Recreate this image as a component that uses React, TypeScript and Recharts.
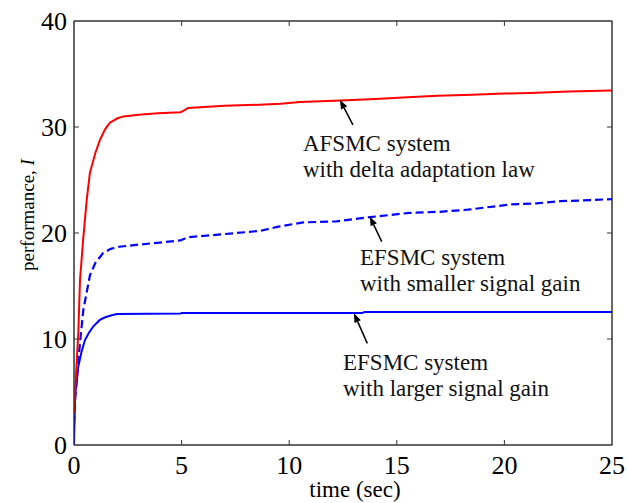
import {
  LineChart,
  Line,
  XAxis,
  YAxis,
  ReferenceLine,
  ReferenceDot,
  ReferenceArea,
} from "recharts";

// time (sec) / performance I
const tAfsmc = [0, 0.05, 0.2, 0.28, 0.43, 0.59, 0.74, 1.0, 1.21, 1.45, 1.67, 2.0, 2.3, 3.0, 3.9, 4.95, 5.1, 5.3, 7, 8.6, 9.6, 10.5, 12.4, 14, 15.5, 16.9, 18.5, 20, 21.2, 23, 25];
const iAfsmc = [3, 5, 10.6, 15.6, 19.5, 23.1, 25.7, 27.6, 28.8, 29.8, 30.4, 30.8, 31.0, 31.15, 31.3, 31.4, 31.55, 31.8, 32.0, 32.1, 32.2, 32.35, 32.5, 32.65, 32.8, 32.95, 33.05, 33.15, 33.2, 33.35, 33.45];

const tSmall = [0, 0.05, 0.2, 0.43, 0.74, 1.0, 1.35, 1.7, 2.1, 3, 4, 4.95, 5.3, 7, 8.65, 9.5, 10.65, 12.2, 13.0, 13.77, 15.6, 17, 18.3, 20.3, 21.5, 22.6, 24, 25];
const iSmall = [2, 4.2, 8.0, 12.7, 16.0, 17.2, 18.1, 18.5, 18.7, 18.9, 19.1, 19.3, 19.6, 19.9, 20.2, 20.6, 21.0, 21.1, 21.3, 21.5, 21.9, 22.0, 22.2, 22.7, 22.8, 23.0, 23.1, 23.2];

const tLarge = [0, 0.05, 0.2, 0.35, 0.51, 0.7, 0.9, 1.2, 1.45, 1.67, 2.0, 4.95, 5.0, 13.4, 13.5, 25];
const iLarge = [0, 4.6, 7.4, 8.8, 9.9, 10.6, 11.2, 11.8, 12.05, 12.2, 12.35, 12.4, 12.45, 12.45, 12.55, 12.55];

const xTicks = [0, 5, 10, 15, 20, 25];
const yTicks = [0, 10, 20, 30, 40];

// annotation: text anchor (t, I), arrow tail -> tip
const notes = [
  { lines: ["AFSMC system", "with delta adaptation law"], at: [10.64, 27.74], tail: [12.96, 30.2], tip: [12.36, 32.55] },
  { lines: ["EFSMC system", "with smaller signal gain"], at: [13.29, 16.98], tail: [14.3, 19.18], tip: [13.75, 21.54] },
  { lines: ["EFSMC system", "with larger signal gain"], at: [12.5, 7.12], tail: [13.63, 9.59], tip: [13.01, 12.42] },
];

const FONT = "Liberation Serif";
const AXIS = "#333";

function pairs(t: number[], v: number[]) {
  return t.map((x, i) => ({ t: x, v: v[i] }));
}

function Arrow(props: any) {
  const { x1, y1, x2, y2 } = props;
  const dx = x2 - x1;
  const dy = y2 - y1;
  const len = Math.sqrt(dx * dx + dy * dy) || 1;
  const ux = dx / len;
  const uy = dy / len;
  const hl = 9;
  const hw = 3.5;
  const bx = x2 - ux * hl;
  const by = y2 - uy * hl;
  return (
    <g>
      <line x1={x1} y1={y1} x2={bx} y2={by} stroke="#000" strokeWidth={1.5} />
      <polygon
        points={`${x2},${y2} ${bx - uy * hw},${by + ux * hw} ${bx + uy * hw},${by - ux * hw}`}
        fill="#000"
      />
    </g>
  );
}

// box round the plot, inward ticks on all four sides
function FrameBox(props: any) {
  const { x, y, width, height } = props;
  const nx = xTicks.length - 1;
  const ny = yTicks.length - 1;
  const marks = [];
  for (let k = 1; k < nx; k++) {
    const px = x + (width * k) / nx;
    marks.push(<line key={`t${k}`} x1={px} y1={y} x2={px} y2={y + 5} stroke={AXIS} />);
    marks.push(<line key={`b${k}`} x1={px} y1={y + height} x2={px} y2={y + height - 5} stroke={AXIS} />);
  }
  for (let k = 1; k < ny; k++) {
    const py = y + (height * k) / ny;
    marks.push(<line key={`r${k}`} x1={x + width} y1={py} x2={x + width - 5} y2={py} stroke={AXIS} />);
    marks.push(<line key={`l${k}`} x1={x} y1={py} x2={x + 5} y2={py} stroke={AXIS} />);
  }
  return (
    <g>
      <rect x={x} y={y} width={width} height={height} fill="none" stroke={AXIS} />
      {marks}
    </g>
  );
}

function noteText(lines: string[]) {
  return (props: any) => (
    <text x={props.cx} y={props.cy} fontFamily={FONT} fontSize={23} fill="#111">
      {lines.map((s, i) => (
        <tspan key={i} x={props.cx} dy={i === 0 ? 0 : 26} fontFamily={FONT}>
          {s}
        </tspan>
      ))}
    </text>
  );
}

export default function App() {
  return (
    <div style={{ position: "absolute", left: 0, top: 0 }}>
      <LineChart
        width={628}
        height={503}
        margin={{ top: 21, right: 16, bottom: 18, left: 34 }}
        style={{ background: "#fff" }}
      >
        <XAxis
          type="number"
          dataKey="t"
          domain={[0, 25]}
          ticks={xTicks}
          allowDataOverflow
          height={40}
          tickSize={-5}
          tickMargin={16}
          tickLine={false}
          stroke={AXIS}
          tick={{ fill: "#000", fontSize: 26, fontFamily: FONT }}
          label={{
            content: () => (
              <text x={355} y={497} textAnchor="middle" fontFamily={FONT} fontSize={23} fill="#000">
                time (sec)
              </text>
            ),
          }}
        />
        <YAxis
          type="number"
          domain={[0, 40]}
          ticks={yTicks}
          allowDataOverflow
          width={40}
          tickSize={-5}
          tickMargin={12}
          tickLine={false}
          stroke={AXIS}
          tick={{ fill: "#000", fontSize: 26, fontFamily: FONT }}
          label={{
            content: () => (
              <text
                x={27}
                y={215}
                transform="rotate(-90 27 215)"
                textAnchor="middle"
                dominantBaseline="central"
                fontFamily={FONT}
                fontSize={19}
                fill="#000"
              >
                performance, <tspan fontStyle="italic">I</tspan>
              </text>
            ),
          }}
        />
        <ReferenceArea
          x1={xTicks[0]}
          x2={xTicks[xTicks.length - 1]}
          y1={yTicks[0]}
          y2={yTicks[yTicks.length - 1]}
          shape={FrameBox}
        />
        <ReferenceLine y={yTicks[yTicks.length - 1]} stroke={AXIS} />
        <ReferenceLine x={xTicks[xTicks.length - 1]} stroke={AXIS} />
        <Line
          data={pairs(tLarge, iLarge)}
          dataKey="v"
          type="linear"
          stroke="#0000ff"
          strokeWidth={2}
          dot={false}
          isAnimationActive={false}
        />
        <Line
          data={pairs(tSmall, iSmall)}
          dataKey="v"
          type="linear"
          stroke="#0000ff"
          strokeWidth={2.2}
          strokeDasharray="8 4"
          dot={false}
          isAnimationActive={false}
        />
        <Line
          data={pairs(tAfsmc, iAfsmc)}
          dataKey="v"
          type="linear"
          stroke="#ff0000"
          strokeWidth={2}
          dot={false}
          isAnimationActive={false}
        />
        {notes.map((n, i) => (
          <ReferenceLine
            key={`a${i}`}
            segment={[
              { x: n.tail[0], y: n.tail[1] },
              { x: n.tip[0], y: n.tip[1] },
            ]}
            shape={Arrow}
          />
        ))}
        {notes.map((n, i) => (
          <ReferenceDot key={`n${i}`} x={n.at[0]} y={n.at[1]} r={1} shape={noteText(n.lines)} />
        ))}
      </LineChart>
    </div>
  );
}
